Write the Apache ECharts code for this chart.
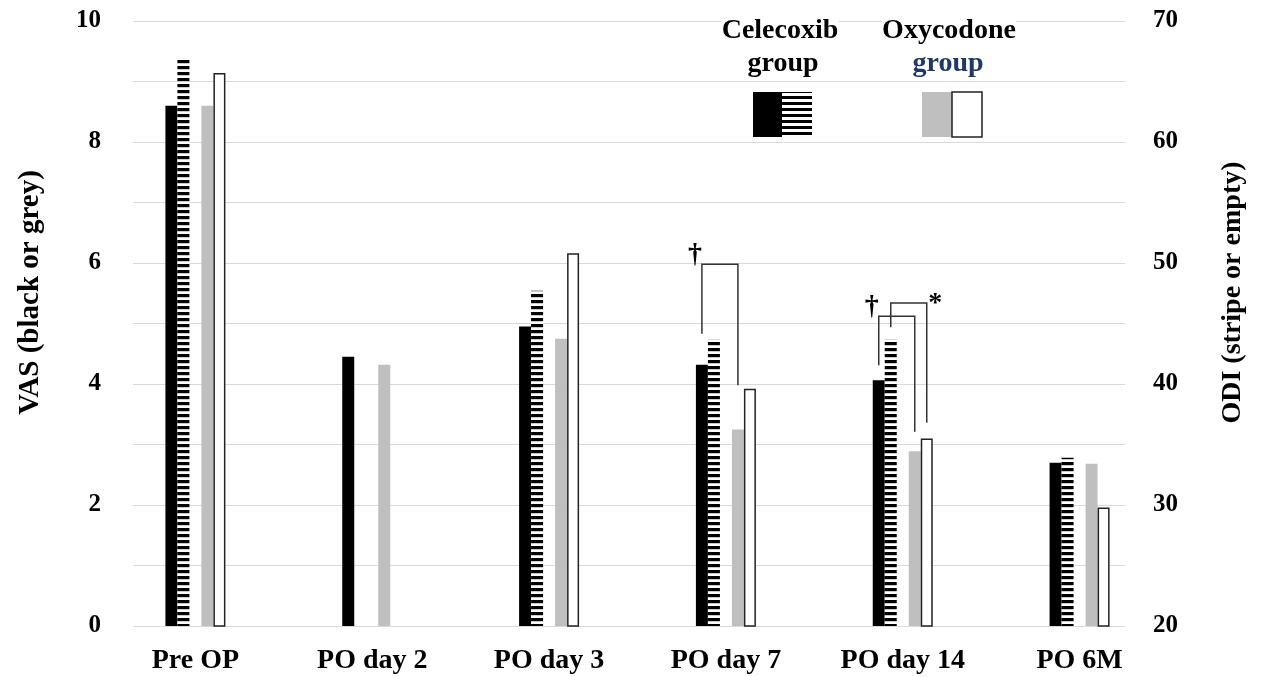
<!DOCTYPE html>
<html>
<head>
<meta charset="utf-8">
<script src="https://cdn.jsdelivr.net/npm/echarts@6/dist/echarts.min.js"></script>
<style>
html,body{margin:0;padding:0;background:#fff;}
#chart{width:1266px;height:677px;}
</style>
</head>
<body>
<div id="chart"></div>
<script>
// ---- data ----
const categories = ['Pre OP', 'PO day 2', 'PO day 3', 'PO day 7', 'PO day 14', 'PO 6M'];
const celecoxibVAS = [8.6, 4.45, 4.95, 4.32, 4.06, 2.70];
const celecoxibODI = [66.8, null, 47.7, 43.7, 43.7, 33.9];
const oxycodoneVAS = [8.6, 4.32, 4.75, 3.25, 2.89, 2.68];
const oxycodoneODI = [65.7, null, 50.8, 39.6, 35.5, 29.8];
const vasTicks = [0, 2, 4, 6, 8, 10];
const odiTicks = [20, 30, 40, 50, 60, 70];
// significance brackets: [category index, top (VAS), left end (VAS), right end (VAS), left bar slot, right bar slot]
const brackets = [
  [3, 5.98, 4.83, 3.98, 0, 3],
  [4, 5.12, 4.31, 3.21, 0, 3],
  [4, 5.34, 4.94, 3.36, 1, 4]
];
const bracketMarks = ['†', '†', '*'];
const bracketMarkSide = ['left', 'left', 'right'];

// ---- styles ----
const FONT = 'Liberation Serif';
const BAR_W = 12;

function stripeCanvas(period, dark) {
  const c = document.createElement('canvas');
  c.width = 4; c.height = period;
  const ctx = c.getContext('2d');
  ctx.fillStyle = '#fff';
  ctx.fillRect(0, 0, 4, period);
  ctx.fillStyle = '#000';
  ctx.fillRect(0, 0, 4, dark);
  return c;
}
const barStripe = { image: stripeCanvas(6, 3.2), repeat: 'repeat' };
const legendStripe = { image: stripeCanvas(6, 3), repeat: 'repeat' };

const chart = echarts.init(document.getElementById('chart'), null, { renderer: 'canvas' });

const emptyData = categories.map(() => null);
const legendFont = 'bold 28px ' + FONT;

const option = {
  animation: false,
  backgroundColor: '#fff',
  grid: [
    { left: 133, right: 141, top: 21, bottom: 51 },
    { left: 107, right: 98, top: 21, bottom: 51 }
  ],
  xAxis: [
    { type: 'category', gridIndex: 0, data: categories, show: false },
    {
      type: 'category', gridIndex: 1, data: categories,
      axisLine: { show: false }, axisTick: { show: false },
      axisLabel: { color: '#000', fontFamily: FONT, fontWeight: 'bold', fontSize: 28, margin: 21 }
    }
  ],
  yAxis: [
    {
      type: 'value', gridIndex: 0, position: 'left', min: 0, max: 10, interval: 1,
      name: 'VAS (black or grey)', nameLocation: 'middle', nameGap: 88,
      nameTextStyle: { color: '#000', fontFamily: FONT, fontWeight: 'bold', fontSize: 29, padding: [0, 0, 0, 62] },
      axisLine: { show: false }, axisTick: { show: false },
      axisLabel: {
        color: '#000', fontFamily: FONT, fontWeight: 'bold', fontSize: 25, margin: 32,
        formatter: v => vasTicks.indexOf(v) >= 0 ? String(v) : ''
      },
      splitLine: { show: true, lineStyle: { color: '#d9d9d9', width: 1.2 } }
    },
    {
      type: 'value', gridIndex: 0, position: 'right', min: 20, max: 70, interval: 5,
      name: 'ODI (stripe or empty)', nameLocation: 'middle', nameGap: 94,
      nameTextStyle: { color: '#000', fontFamily: FONT, fontWeight: 'bold', fontSize: 28, padding: [0, 0, 0, 62] },
      axisLine: { show: false }, axisTick: { show: false },
      axisLabel: {
        color: '#000', fontFamily: FONT, fontWeight: 'bold', fontSize: 25, margin: 28,
        formatter: v => odiTicks.indexOf(v) >= 0 ? String(v) : ''
      },
      splitLine: { show: false }
    },
    { type: 'value', gridIndex: 1, min: 0, max: 10, show: false, splitLine: { show: false } },
    { type: 'value', gridIndex: 1, position: 'right', min: 20, max: 70, show: false, splitLine: { show: false } }
  ],
  series: [
    { name: 'Celecoxib VAS', type: 'bar', xAxisIndex: 1, yAxisIndex: 2, data: celecoxibVAS,
      barWidth: BAR_W, barGap: '0%', itemStyle: { color: '#000' } },
    { name: 'Celecoxib ODI', type: 'bar', xAxisIndex: 1, yAxisIndex: 3, data: celecoxibODI,
      barWidth: BAR_W, barGap: '0%', itemStyle: { color: barStripe } },
    { name: 'spacer', type: 'bar', xAxisIndex: 1, yAxisIndex: 2, data: emptyData,
      barWidth: BAR_W, barGap: '0%', itemStyle: { color: 'transparent' } },
    { name: 'Oxycodone VAS', type: 'bar', xAxisIndex: 1, yAxisIndex: 2, data: oxycodoneVAS,
      barWidth: BAR_W, barGap: '0%', itemStyle: { color: '#bfbfbf' } },
    { name: 'Oxycodone ODI', type: 'bar', xAxisIndex: 1, yAxisIndex: 3, data: oxycodoneODI,
      barWidth: BAR_W, barGap: '0%', itemStyle: { color: '#fff', borderColor: '#222', borderWidth: 1.5 } },
    {
      name: 'brackets', type: 'custom', xAxisIndex: 1, yAxisIndex: 2, z: 5,
      data: brackets,
      renderItem: function (params, api) {
        const cat = api.value(0);
        const top = api.coord([cat, api.value(1)]);
        const yL = api.coord([cat, api.value(2)])[1];
        const yR = api.coord([cat, api.value(3)])[1];
        const xL = top[0] + (api.value(4) - 2) * BAR_W;
        const xR = top[0] + (api.value(5) - 2) * BAR_W;
        const yT = top[1];
        const side = bracketMarkSide[params.dataIndex];
        const mark = bracketMarks[params.dataIndex];
        return {
          type: 'group',
          children: [
            { type: 'polyline', shape: { points: [[xL, yL], [xL, yT], [xR, yT], [xR, yR]] },
              style: { stroke: '#333', lineWidth: 1.5, fill: null } },
            { type: 'text',
              style: side === 'left'
                ? { text: mark, x: xL, y: yT + 5, align: 'right', verticalAlign: 'bottom',
                    fill: '#000', font: 'bold 28px ' + FONT }
                : { text: mark, x: xR + 1.5, y: yT + 1, align: 'left', verticalAlign: 'middle',
                    fill: '#000', font: 'bold 28px ' + FONT } }
          ]
        };
      }
    }
  ],
  graphic: [
    { type: 'text', z: 100, style: { text: 'Celecoxib', x: 780, y: 31, align: 'center', verticalAlign: 'middle',
      fill: '#000', font: legendFont, backgroundColor: '#fff' } },
    { type: 'text', z: 100, style: { text: 'group', x: 783, y: 64, align: 'center', verticalAlign: 'middle',
      fill: '#000', font: legendFont } },
    { type: 'text', z: 100, style: { text: 'Oxycodone', x: 949, y: 31, align: 'center', verticalAlign: 'middle',
      fill: '#000', font: legendFont, backgroundColor: '#fff' } },
    { type: 'text', z: 100, style: { text: 'group', x: 948, y: 64, align: 'center', verticalAlign: 'middle',
      fill: '#1f3864', font: legendFont } },
    { type: 'rect', z: 100, shape: { x: 753, y: 92, width: 29, height: 45 }, style: { fill: '#000' } },
    { type: 'rect', z: 100, shape: { x: 782, y: 92, width: 30, height: 45 }, style: { fill: legendStripe } },
    { type: 'rect', z: 100, shape: { x: 922, y: 92, width: 30, height: 45 }, style: { fill: '#bfbfbf' } },
    { type: 'rect', z: 100, shape: { x: 952, y: 92, width: 30, height: 45 }, style: { fill: '#fff', stroke: '#222', lineWidth: 1.5 } }
  ]
};
chart.setOption(option);
</script>
</body>
</html>
